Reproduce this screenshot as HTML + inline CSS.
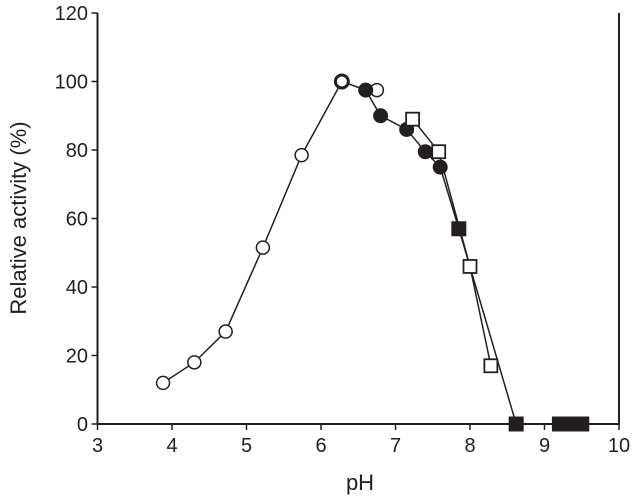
<!DOCTYPE html>
<html><head><meta charset="utf-8"><style>
body{margin:0;background:#fff;}
svg text{font-family:"Liberation Sans",sans-serif;fill:#231f20;}
</style></head><body>
<svg id="chart" width="639" height="498">
<g id="axes"></g><g id="lines"></g><g id="marks"></g>
</svg>
<script>
const xTicks=[3,4,5,6,7,8,9,10];
const yTicks=[0,20,40,60,80,100,120];
const openCircleX=[3.88,4.3,4.72,5.22,5.74,6.28,6.75];
const openCircleY=[12,18,27,51.5,78.5,100,97.5];
const filledCircleX=[6.6,6.8,7.15,7.4,7.6];
const filledCircleY=[97.5,90,86,79.5,75];
const openSquareX=[7.23,7.58,8.0,8.28];
const openSquareY=[89,79.5,46,17];
const filledSquareX=[7.85,8.62,9.2,9.35,9.5];
const filledSquareY=[57,0,0,0,0];
const X=v=>97.5+(v-3)*74.5;
const Y=v=>424-v*3.425;
const NS="http://www.w3.org/2000/svg";
function mk(parent,tag,attrs){const e=document.createElementNS(NS,tag);for(const k in attrs)e.setAttribute(k,attrs[k]);document.getElementById(parent).appendChild(e);return e;}
let e;
e=mk('axes','path',{d:`M${X(3)},${Y(120)} L${X(3)},${Y(0)} L${X(10)},${Y(0)} L${X(10)},${Y(120)}`,fill:'none',stroke:'#231f20','stroke-width':2});


xTicks.forEach(t=>{
 e=mk('axes','line',{x1:X(t),x2:X(t),y1:Y(0),y2:Y(0)+6,stroke:'#231f20','stroke-width':1.5});
 
 
 e=mk('axes','text',{x:X(t),y:452,'text-anchor':'middle','font-size':20});
 e.textContent=t;
 
 
});
yTicks.forEach(t=>{
 e=mk('axes','line',{x1:X(3)-6,x2:X(3),y1:Y(t),y2:Y(t),stroke:'#231f20','stroke-width':1.5});
 
 
 e=mk('axes','text',{x:88,y:Y(t)+7,'text-anchor':'end','font-size':20});
 e.textContent=t;
 
 
});
e=mk('axes','text',{x:360,y:490,'text-anchor':'middle','font-size':22});
e.textContent='pH';


e=mk('axes','text',{x:0,y:0,'text-anchor':'middle','font-size':22,transform:`translate(26,218) rotate(-90)`});
e.textContent='Relative activity (%)';


function poly(xs,ys,name){
 const pts=xs.map((x,i)=>X(x)+','+Y(ys[i])).join(' ');
 const l=mk('lines','polyline',{points:pts,fill:'none',stroke:'#231f20','stroke-width':1.5});
 
 
}
poly(openCircleX.slice(0,6),openCircleY.slice(0,6),'open-circle-line');
poly([6.28].concat(filledCircleX,filledSquareX.slice(0,2)),[100].concat(filledCircleY,filledSquareY.slice(0,2)),'filled-series-line');
poly(openSquareX,openSquareY,'open-square-line');
openCircleX.forEach((x,i)=>{
 const c=mk('marks','circle',{cx:X(x),cy:Y(openCircleY[i]),r:6.5,fill:'#fff',stroke:'#231f20','stroke-width':i==5?3:1.5});
 
 
});
filledCircleX.forEach((x,i)=>{
 const c=mk('marks','circle',{cx:X(x),cy:Y(filledCircleY[i]),r:7.5,fill:'#231f20'});
 
 
});
openSquareX.forEach((x,i)=>{
 const c=mk('marks','rect',{x:X(x)-6.5,y:Y(openSquareY[i])-6.5,width:13,height:13,fill:'#fff',stroke:'#231f20','stroke-width':1.8});
 
 
});
filledSquareX.forEach((x,i)=>{
 const c=mk('marks','rect',{x:X(x)-7.5,y:Y(filledSquareY[i])-7.5,width:15,height:15,fill:'#231f20'});
 
 
});
</script>
</body></html>
